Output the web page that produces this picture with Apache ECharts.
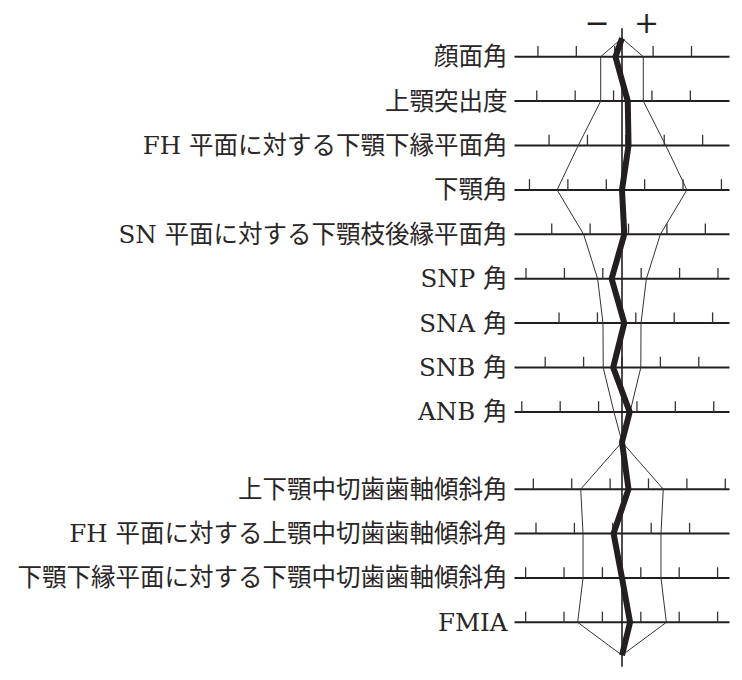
<!DOCTYPE html>
<html>
<head>
<meta charset="utf-8">
<script src="https://cdn.jsdelivr.net/npm/echarts@6/dist/echarts.min.js"></script>
<style>
html,body{margin:0;padding:0;background:#ffffff;}
#chart{width:742px;height:680px;}
</style>
</head>
<body>
<div id="chart"></div>
<script>
// ---- data (units: one tick interval = 1, centre = mean) ----
const labels = [
  '顔面角',
  '上顎突出度',
  'FH 平面に対する下顎下縁平面角',
  '下顎角',
  'SN 平面に対する下顎枝後縁平面角',
  'SNP 角',
  'SNA 角',
  'SNB 角',
  'ANB 角',
  '上下顎中切歯歯軸傾斜角',
  'FH 平面に対する上顎中切歯歯軸傾斜角',
  '下顎下縁平面に対する下顎中切歯歯軸傾斜角',
  'FMIA'
];
// half-width of the standard (±1 SD) band on each row
const normSD = [0.555, 0.555, 1.14, 1.69, 1.0, 0.635, 0.495, 0.49, 0.21, 1.075, 1.015, 1.015, 1.155];
// patient's deviation on each row
const patient = [-0.17, 0.15, 0.17, 0.0, 0.06, -0.27, 0.06, -0.23, 0.2, 0.17, -0.22, 0.0, 0.21];
// tick scale of each row: first tick and number of ticks
const tickStart = [-2.19, -2.22, -1.90, -2.41, -1.83, -2.50, -1.64, -2.00, -2.61, -2.31, -2.24, -2.51, -2.51];
const tickCount = [5, 5, 5, 6, 5, 6, 5, 5, 6, 6, 5, 6, 6];
const signLabels = ['−', '+'];
const signValues = [-0.65, 0.64];

// ---- layout helpers ----
const GROUP_GAP = 0.74;           // extra space before the incisor group
const SPLIT = 9;                  // first row of the second group
function rowY(i) { return i < SPLIT ? i : i + GROUP_GAP; }
const apexTop = -0.414, apexMid = 8.68, apexBot = 13.48;
const axisTop = -0.64, axisBot = 13.74;
const XMAX = 2.8;

function profile(vals, sign) {
  const pts = [[0, apexTop]];
  vals.forEach((v, i) => {
    if (i === SPLIT) pts.push([0, apexMid]);
    pts.push([sign * v, rowY(i)]);
  });
  pts.push([0, apexBot]);
  return pts;
}

const FONT = "'DejaVu Serif', 'Noto Sans CJK JP', serif";
const INK = '#231f20';

const chart = echarts.init(document.getElementById('chart'), null, { renderer: 'svg' });

chart.setOption({
  animation: false,
  backgroundColor: '#ffffff',
  grid: { left: 514.5, right: 12.5, top: 12.3, bottom: 1.7, containLabel: false },
  xAxis: { type: 'value', min: -XMAX, max: XMAX, show: false },
  yAxis: { type: 'value', min: -1, max: 14, inverse: true, show: false },
  series: [
    {
      type: 'custom',
      name: 'rows',
      clip: false,
      z: 1,
      data: labels.map((l, i) => [0, rowY(i), tickStart[i], tickCount[i]]),
      renderItem: function (params, api) {
        const y = api.value(1);
        const a = api.coord([-XMAX, y]);
        const b = api.coord([XMAX, y]);
        const children = [{
          type: 'line',
          shape: { x1: a[0], y1: a[1], x2: b[0], y2: b[1] },
          style: { stroke: INK, lineWidth: 2 }
        }];
        const start = api.value(2), n = api.value(3);
        for (let k = 0; k < n; k++) {
          const p = api.coord([start + k, y]);
          children.push({
            type: 'line',
            shape: { x1: p[0], y1: p[1] - 10.7, x2: p[0], y2: p[1] },
            style: { stroke: '#333333', lineWidth: 1.3 }
          });
        }
        children.push({
          type: 'text',
          style: {
            text: labels[params.dataIndex],
            x: a[0] - 7, y: a[1],
            align: 'right', verticalAlign: 'middle',
            fontSize: 24.5, fontFamily: FONT, fill: '#2a2627'
          }
        });
        return { type: 'group', children: children };
      }
    },
    {
      type: 'custom',
      name: 'signs',
      clip: false,
      z: 1,
      data: signValues.map(v => [v, -0.78]),
      renderItem: function (params, api) {
        const p = api.coord([api.value(0), api.value(1)]);
        return {
          type: 'text',
          style: {
            text: signLabels[params.dataIndex],
            x: p[0], y: p[1],
            align: 'center', verticalAlign: 'middle',
            fontSize: 30, fontFamily: "'DejaVu Serif', serif", fill: INK
          }
        };
      }
    },
    {
      type: 'line', name: 'norm-', z: 2,
      data: profile(normSD, -1),
      symbol: 'none',
      lineStyle: { color: '#333333', width: 1 }
    },
    {
      type: 'line', name: 'norm+', z: 2,
      data: profile(normSD, 1),
      symbol: 'none',
      lineStyle: { color: '#333333', width: 1 }
    },
    {
      type: 'line', name: 'axis', z: 3,
      data: [[0, axisTop], [0, axisBot]],
      symbol: 'none',
      lineStyle: { color: INK, width: 1.6 }
    },
    {
      type: 'line', name: 'patient', z: 4,
      data: profile(patient, 1),
      symbol: 'none',
      lineStyle: { color: INK, width: 6 }
    }
  ]
});
</script>
</body>
</html>
